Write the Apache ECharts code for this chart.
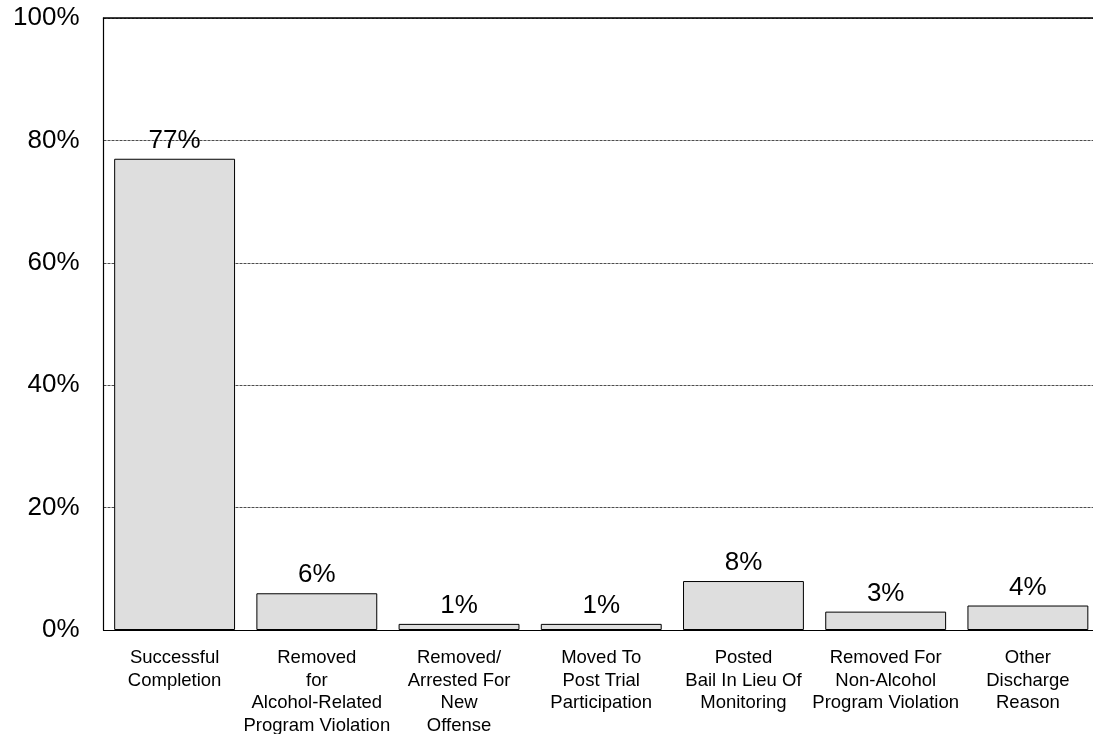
<!DOCTYPE html>
<html><head><meta charset="utf-8">
<script src="https://cdn.jsdelivr.net/npm/echarts@6/dist/echarts.min.js"></script>
<style>html,body{margin:0;padding:0;background:#fff}#c{width:1093px;height:734px}</style>
</head><body><div id="c"></div>
<script>
const categories = [
  "Successful\nCompletion",
  "Removed\nfor\nAlcohol-Related\nProgram Violation",
  "Removed/\nArrested For\nNew\nOffense",
  "Moved To\nPost Trial\nParticipation",
  "Posted\nBail In Lieu Of\nMonitoring",
  "Removed For\nNon-Alcohol\nProgram Violation",
  "Other\nDischarge\nReason"
];
const values = [77, 6, 1, 1, 8, 3, 4];
const yTicks = [0, 20, 40, 60, 80, 100];

const chart = echarts.init(document.getElementById('c'));
chart.setOption({
  animation: false,
  grid: { left: 103.5, top: 18, width: 995.5, height: 612, containLabel: false, outerBoundsMode: 'none' },
  xAxis: [{
    type: 'category', data: categories,
    axisLine: { show: true, lineStyle: { color: '#000', width: 1.2 } },
    axisTick: { show: false },
    axisLabel: { interval: 0, fontFamily: 'Liberation Sans, Arial', fontSize: 18.5, color: '#000', lineHeight: 22.5, margin: 17 }
  }, {
    type: 'category', data: categories, position: 'top',
    axisLine: { show: true, lineStyle: { color: '#000', width: 1.5 } },
    axisTick: { show: false }, axisLabel: { show: false }
  }],
  yAxis: {
    type: 'value', min: 0, max: 100, interval: 20,
    axisLine: { show: true, lineStyle: { color: '#000', width: 1.2 } },
    axisTick: { show: false },
    splitLine: { show: true, lineStyle: { color: '#000', type: [3, 1], width: 0.7 } },
    axisLabel: { formatter: v => yTicks.includes(v) ? v + '%' : '', fontFamily: 'Liberation Sans, Arial', fontSize: 26, color: '#000', margin: 24 }
  },
  series: [{
    type: 'bar', data: values, barCategoryGap: '15%',
    itemStyle: { color: '#dedede', borderColor: '#000', borderWidth: 1 },
    label: { show: true, position: 'top', distance: 5, formatter: '{c}%', fontFamily: 'Liberation Sans, Arial', fontSize: 26, color: '#000' }
  }]
});
</script></body></html>
